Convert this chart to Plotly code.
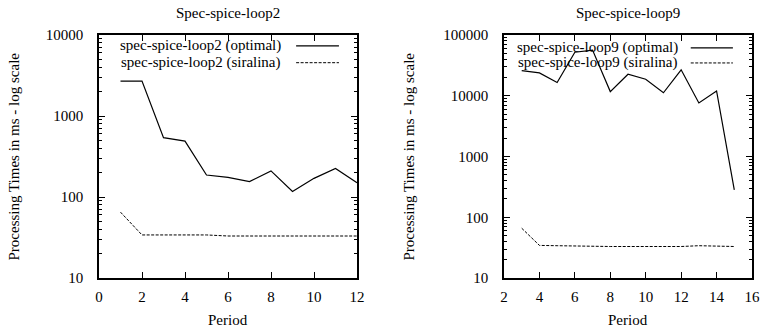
import plotly.graph_objects as go
from plotly.subplots import make_subplots

# Spec-spice-loop2
loop2_period = [1, 2, 3, 4, 5, 6, 7, 8, 9, 10, 11, 12]
loop2_optimal = [2700, 2700, 540, 490, 187, 175, 155, 210, 117, 170, 225, 150]
loop2_siralina = [65, 34, 34, 34, 34, 33, 33, 33, 33, 33, 33, 33]

# Spec-spice-loop9
loop9_period = [3, 4, 5, 6, 7, 8, 9, 10, 11, 12, 13, 14, 15]
loop9_optimal = [25900, 23800, 16500, 52000, 56500, 11700, 22600, 18700,
                 11200, 26700, 7600, 12000, 283]
loop9_siralina = [66, 34.4, 34, 33.5, 33, 33, 33, 33, 33, 33, 34, 33.5, 33]

FONT = "Liberation Serif"
SOLID = dict(color="black", width=1.2)
DASHED = dict(color="black", width=1, dash="3px,1.5px")

fig = make_subplots(rows=1, cols=2)

panels = [
    (1, "loop2", loop2_period, loop2_optimal, loop2_siralina),
    (2, "loop9", loop9_period, loop9_optimal, loop9_siralina),
]
for col, tag, xs, opt, sir in panels:
    fig.add_trace(go.Scatter(x=xs, y=opt, mode="lines", line=SOLID,
                             name=f"spec-spice-{tag} (optimal)", showlegend=False),
                  row=1, col=col)
    fig.add_trace(go.Scatter(x=xs, y=sir, mode="lines", line=DASHED,
                             name=f"spec-spice-{tag} (siralina)", showlegend=False),
                  row=1, col=col)

axis_common = dict(showline=True, linecolor="black", linewidth=1.5, mirror="ticks",
                   ticks="inside", ticklen=6, tickcolor="black", showgrid=False,
                   zeroline=False, automargin=False,
                   tickfont=dict(family=FONT, size=15, color="black"))

fig.update_xaxes(**axis_common, ticklabelstandoff=4)
fig.update_yaxes(**axis_common, tickformat="d", ticklabelstandoff=11)

fig.update_xaxes(range=[0, 12], dtick=2, tick0=0, domain=[99 / 765, 357 / 765], row=1, col=1)
fig.update_xaxes(range=[2, 16], dtick=2, tick0=2, domain=[504 / 765, 752 / 765], row=1, col=2)


def log_minor(lo, hi):
    vals = []
    for e in range(lo, hi):
        vals += [m * 10 ** e for m in range(2, 10)]
    return dict(tickmode="array", tickvals=vals, ticks="inside", ticklen=3,
                tickcolor="black", showgrid=False)


ydom = [56 / 334, 299 / 334]
fig.update_yaxes(type="log", range=[1, 4], dtick=1, domain=ydom, minor=log_minor(1, 4),
                 row=1, col=1)
fig.update_yaxes(type="log", range=[1, 5], dtick=1, domain=ydom, minor=log_minor(1, 5),
                 row=1, col=2)

annotations = []
titles = ["Spec-spice-loop2", "Spec-spice-loop9"]
centers = [(99 + 357) / 2 / 765, (504 + 752) / 2 / 765]
ycenter = 1 - (35 + 278) / 2 / 334
ytitle_x = [13 / 765, 408 / 765]
centered = dict(xref="paper", yref="paper", xanchor="center", yanchor="middle",
                showarrow=False)
for i in range(2):
    annotations.append(dict(text=titles[i], x=centers[i], y=1 - 13 / 334, **centered,
                            font=dict(family=FONT, size=15, color="black")))
    annotations.append(dict(text="Period", x=centers[i], y=1 - 320 / 334, **centered,
                            font=dict(family=FONT, size=15, color="black")))
    annotations.append(dict(text="Processing Times in ms - log scale", x=ytitle_x[i],
                            y=ycenter, textangle=-90, **centered,
                            font=dict(family=FONT, size=15, color="black")))

# gnuplot-style key: label on the left, line sample on the right
shapes = []
keys = [
    ("x domain", "y domain", "loop2", 0.713, 0.764, 0.93, [0.955, 0.886]),
    ("x2 domain", "y2 domain", "loop9", 0.71, 0.753, 0.923, [0.947, 0.885]),
]
for xr, yr, tag, tx, l0, l1, rows in keys:
    for (label, style), yy in zip([("optimal", SOLID), ("siralina", DASHED)], rows):
        annotations.append(dict(text=f"spec-spice-{tag} ({label})", x=tx, y=yy,
                                xref=xr, yref=yr, xanchor="right", yanchor="middle",
                                showarrow=False,
                                font=dict(family=FONT, size=15, color="black")))
        shapes.append(dict(type="line", x0=l0, x1=l1, y0=yy, y1=yy, xref=xr, yref=yr,
                           line=style))

fig.update_layout(width=765, height=334, margin=dict(l=0, r=0, t=0, b=0, autoexpand=False),
                  plot_bgcolor="white", paper_bgcolor="white",
                  font=dict(family=FONT, color="black"),
                  annotations=annotations, shapes=shapes)

fig.write_html("out.html")
